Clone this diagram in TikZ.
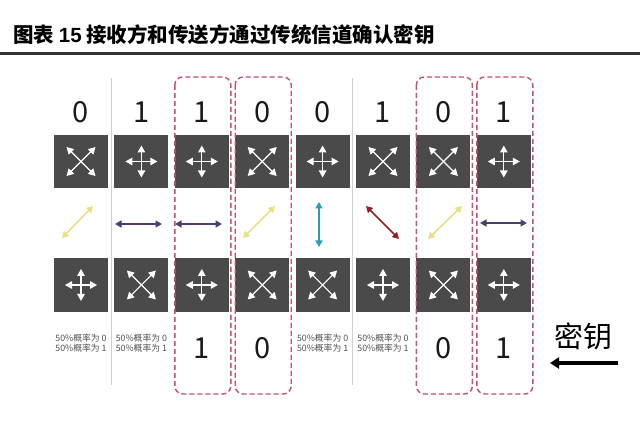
\documentclass[tikz,border=0pt]{standalone}
\usepackage{fontspec}
\setmainfont{Noto Sans CJK SC}
\newfontfamily\latinf{Liberation Sans}
\usetikzlibrary{arrows.meta}
\definecolor{boxgray}{HTML}{4A4A4A}
\definecolor{rulegray}{HTML}{333333}
\definecolor{sepgray}{HTML}{CFCFCF}
\definecolor{dashred}{HTML}{C4506C}
\definecolor{pyellow}{HTML}{E9DF86}
\definecolor{ppurple}{HTML}{4E3D73}
\definecolor{pteal}{HTML}{2A9DB1}
\definecolor{pred}{HTML}{8E1F23}
\definecolor{probgray}{HTML}{505050}
\tikzset{
  boxnode/.style={fill=boxgray, minimum width=54pt, minimum height=53.5pt, inner sep=0pt, draw=none},
  digit/.style={font=\fontsize{29}{31}\selectfont, inner sep=0pt, text=black!90},
  probtext/.style={font=\fontsize{8.8}{10.4}\selectfont, align=left, text=probgray, inner sep=0pt},
  iconarrow/.style={draw=white, line width=1.2pt, -{Triangle[length=7pt,width=7.5pt]}},
  plusicon/.pic={\foreach \a in {0,90,180,270} \draw[iconarrow] (0,0) -- (\a:16);},
  xicon/.pic={\foreach \a in {45,135,225,315} \draw[iconarrow] (0,0) -- (\a:20.5);},
  photon/.style={line width=1.6pt, {Triangle[length=6.5pt,width=7pt]}-{Triangle[length=6.5pt,width=7pt]}},
  keepbox/.style={draw=dashred, line width=1.4pt, dash pattern=on 5pt off 3pt, rounded corners=8pt},
  separator/.style={draw=sepgray, line width=0.8pt},
}
\begin{document}
\begin{tikzpicture}[x=1pt,y=-1pt]
\useasboundingbox (0,0) rectangle (640,427);
\fill[white] (0,0) rectangle (640,427);
% title
\node[anchor=west, inner sep=0pt, font=\bfseries\fontsize{20.5}{24}\selectfont] (title) at (13,35)
  {图表 {\latinf\bfseries 15} 接收方和传送方通过传统信道确认密钥};
\coordinate (rl) at (0,53.5);
\coordinate (rr) at (640,53.5);
\draw[rulegray, line width=3pt] (rl) -- (rr);
% separators
\coordinate (s1a) at (111.2,78);
\coordinate (s1b) at (111.2,385);
\coordinate (s2a) at (352.8,78);
\coordinate (s2b) at (352.8,385);
\draw[separator] (s1a) -- (s1b);
\draw[separator] (s2a) -- (s2b);
% columns
\foreach \i/\tp/\bt/\dg/\bv in {1/xicon/plusicon/0/p, 2/plusicon/xicon/1/p, 3/plusicon/plusicon/1/1, 4/xicon/xicon/0/0, 5/plusicon/xicon/0/p, 6/xicon/plusicon/1/p, 7/xicon/xicon/0/0, 8/plusicon/plusicon/1/1}{
  \pgfmathsetmacro{\cx}{81+60.4*(\i-1)}
  \node[digit] (d\i) at (\cx,112) {\dg};
  \node[boxnode] (t\i) at (\cx,161.5) {};
  \pic at (t\i) {\tp};
  \node[boxnode] (b\i) at (\cx,285) {};
  \pic at (b\i) {\bt};
  \if p\bv
    \node[probtext] (r\i) at (\cx,343) {50\%概率为 0\\50\%概率为 1};
  \else
    \node[digit] (r\i) at (\cx,348) {\bv};
  \fi
}
% kept columns (dashed)
\foreach \i in {3,4,7,8}{
  \pgfmathsetmacro{\cx}{81+60.4*(\i-1)}
  \draw[keepbox] (\cx-27,77) rectangle (\cx+29,394);
}
% photon polarizations
\coordinate (p1a) at (62,238);  \coordinate (p1b) at (93,206);
\coordinate (p2a) at (115,224); \coordinate (p2b) at (162,224);
\coordinate (p3a) at (175,224); \coordinate (p3b) at (222,224);
\coordinate (p4a) at (243,238); \coordinate (p4b) at (275,206);
\coordinate (p5a) at (319,202); \coordinate (p5b) at (319,247);
\coordinate (p6a) at (366,206); \coordinate (p6b) at (399,239);
\coordinate (p7a) at (428,239); \coordinate (p7b) at (462,206);
\coordinate (p8a) at (480,223); \coordinate (p8b) at (527,223);
\draw[photon, pyellow] (p1a) -- (p1b);
\draw[photon, ppurple] (p2a) -- (p2b);
\draw[photon, ppurple] (p3a) -- (p3b);
\draw[photon, pyellow] (p4a) -- (p4b);
\draw[photon, pteal] (p5a) -- (p5b);
\draw[photon, pred] (p6a) -- (p6b);
\draw[photon, pyellow] (p7a) -- (p7b);
\draw[photon, ppurple] (p8a) -- (p8b);
% key label
\node[inner sep=0pt, font=\fontsize{29}{32}\selectfont] (key) at (583,336) {密钥};
\coordinate (ka) at (618,363);
\coordinate (kb) at (550,363);
\draw[line width=3.5pt, -{Triangle[length=9pt,width=11pt]}] (ka) -- (kb);
\end{tikzpicture}
\end{document}
